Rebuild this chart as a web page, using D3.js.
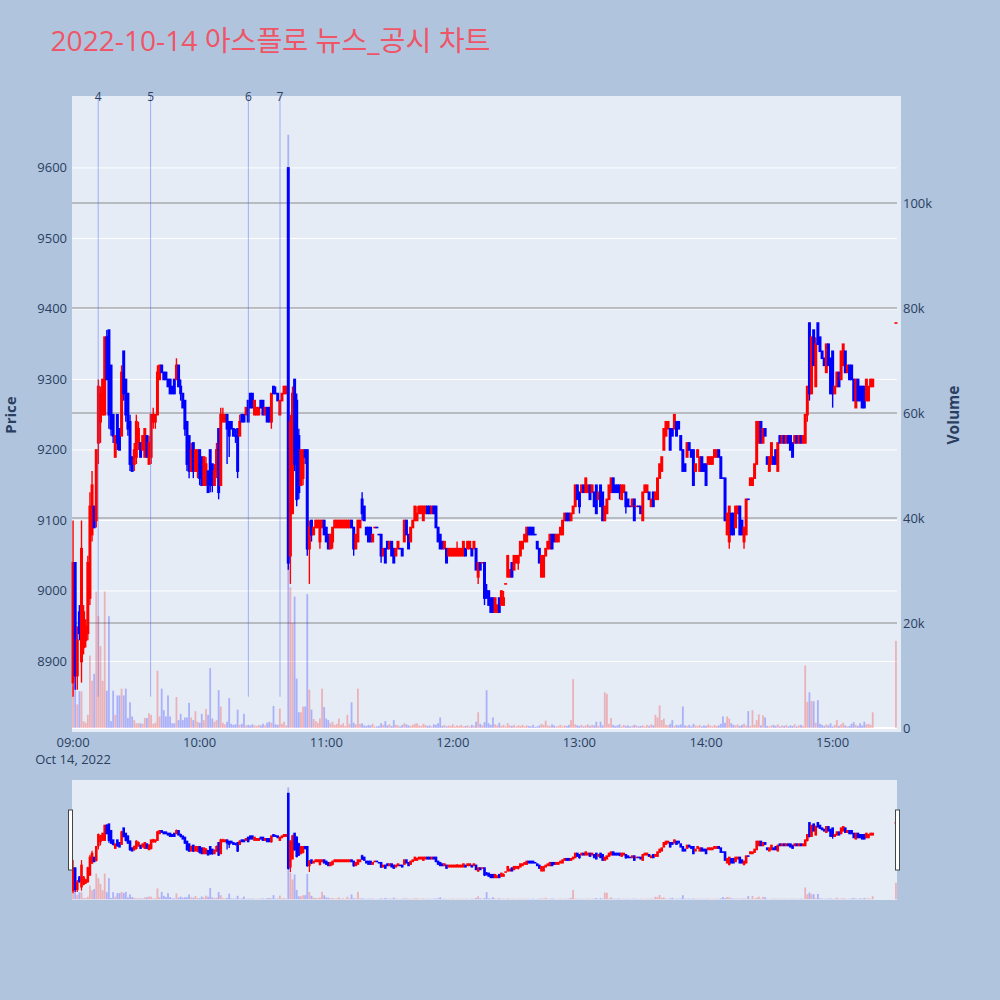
<!DOCTYPE html>
<html><head><meta charset="utf-8">
<script src="https://cdn.jsdelivr.net/npm/d3@7/dist/d3.min.js"></script>
<style>
html,body{margin:0;padding:0;background:#b0c4de;}
svg{display:block;}
text{font-family:"Open Sans","Noto Sans CJK KR",sans-serif;}
</style></head><body>
<svg id="chart" width="1000" height="1000"></svg>
<script>
const chartTitle = "2022-10-14 아스플로 뉴스_공시 차트";
const sessionStart = "2022-10-14T09:00:00Z";
const regularBars = 380;              // one-minute bars 09:00 .. 15:19
const closingAuction = "2022-10-14T15:30:00Z";

const openP = [
8870,9040,8880,8970,8900,8920,8930,8940,8990,9080,
9120,9100,9210,9240,9250,9250,9360,9370,9320,9250,
9190,9250,9230,9220,9340,9300,9280,9240,9190,9180,
9190,9210,9210,9200,9190,9220,9180,9190,9240,9240,
9250,9300,9320,9310,9310,9300,9300,9290,9300,9300,
9320,9290,9280,9270,9240,9220,9170,9210,9170,9170,
9200,9190,9150,9150,9170,9200,9180,9150,9170,9230,
9150,9240,9240,9250,9240,9240,9230,9220,9230,9220,
9250,9250,9250,9270,9280,9280,9250,9250,9250,9270,
9270,9250,9260,9260,9240,9290,9280,9280,9250,9270,
9280,9280,9600,9050,9110,9300,9270,9220,9150,9160,
9200,9200,9060,9100,9080,9090,9090,9070,9090,9100,
9090,9080,9060,9070,9090,9090,9090,9090,9090,9090,
9090,9090,9100,9090,9060,9070,9090,9130,9120,9090,
9090,9090,9070,9090,9090,9080,9080,9050,9060,9070,
9060,9070,9060,9050,9060,9060,9060,9070,9100,9080,
9070,9090,9100,9100,9110,9110,9100,9110,9120,9120,
9110,9120,9120,9090,9080,9070,9060,9060,9050,9050,
9050,9050,9050,9050,9050,9050,9060,9060,9060,9060,
9060,9060,9020,9040,9040,9040,9000,9000,8990,8990,
8970,8970,8990,8980,8980,9010,9020,9020,9040,9030,
9040,9040,9050,9060,9070,9070,9090,9090,9090,9080,
9070,9060,9020,9020,9050,9060,9060,9080,9080,9070,
9070,9080,9080,9100,9110,9110,9100,9110,9120,9150,
9140,9140,9150,9140,9140,9150,9140,9140,9150,9130,
9150,9140,9100,9110,9130,9140,9160,9150,9150,9150,
9130,9140,9140,9130,9120,9120,9130,9120,9120,9120,
9100,9140,9140,9140,9120,9140,9130,9130,9160,9170,
9200,9220,9230,9230,9230,9230,9240,9240,9220,9200,
9180,9190,9210,9200,9200,9170,9190,9170,9190,9180,
9180,9180,9180,9180,9190,9190,9200,9190,9160,9160,
9080,9070,9110,9110,9090,9110,9120,9100,9070,9080,
9130,9150,9150,9160,9180,9210,9240,9210,9230,9190,
9170,9180,9190,9200,9170,9220,9210,9220,9210,9220,
9220,9210,9210,9220,9210,9220,9210,9210,9250,9380,
9280,9370,9290,9380,9360,9340,9330,9310,9350,9330,
9340,9280,9290,9310,9300,9320,9340,9310,9320,9320,
9300,9260,9300,9290,9290,9290,9270,9270,9290,9290,
9380];
const highP = [
9100,9040,8950,8980,9100,8980,8960,9050,9140,9170,
9120,9200,9300,9290,9300,9360,9370,9370,9320,9250,
9220,9250,9230,9320,9340,9300,9280,9250,9190,9210,
9250,9240,9210,9220,9230,9220,9220,9250,9260,9250,
9320,9320,9320,9310,9310,9300,9300,9290,9300,9330,
9320,9300,9280,9270,9240,9220,9210,9210,9200,9200,
9200,9190,9190,9190,9170,9200,9180,9180,9210,9230,
9260,9260,9250,9250,9240,9240,9230,9230,9230,9250,
9250,9250,9260,9270,9280,9280,9270,9260,9260,9270,
9270,9260,9260,9260,9280,9290,9290,9280,9270,9280,
9290,9290,9600,9250,9290,9300,9280,9230,9200,9200,
9200,9200,9100,9100,9090,9100,9100,9100,9100,9100,
9090,9080,9080,9090,9100,9100,9100,9100,9100,9100,
9100,9100,9100,9090,9080,9100,9100,9140,9120,9090,
9090,9090,9080,9090,9090,9080,9080,9060,9060,9070,
9070,9070,9060,9060,9070,9060,9060,9100,9100,9080,
9090,9100,9120,9120,9120,9120,9120,9120,9120,9120,
9120,9120,9120,9090,9080,9070,9070,9060,9060,9060,
9060,9060,9070,9060,9060,9070,9060,9070,9070,9060,
9070,9060,9040,9040,9040,9040,9010,9000,8990,8990,
8990,8980,8990,9000,9000,9010,9050,9030,9040,9050,
9050,9050,9070,9070,9080,9090,9090,9090,9090,9080,
9070,9060,9050,9050,9060,9070,9080,9080,9080,9080,
9080,9090,9100,9110,9110,9110,9110,9120,9150,9150,
9140,9150,9150,9160,9150,9150,9150,9140,9150,9140,
9150,9140,9120,9130,9150,9160,9160,9150,9150,9150,
9150,9150,9140,9130,9120,9130,9130,9120,9120,9120,
9140,9150,9150,9140,9130,9140,9140,9160,9180,9190,
9230,9240,9240,9230,9230,9250,9240,9240,9220,9200,
9180,9210,9210,9200,9200,9180,9200,9190,9190,9180,
9180,9190,9190,9190,9200,9200,9200,9190,9160,9160,
9110,9120,9110,9110,9120,9120,9120,9100,9090,9130,
9130,9160,9160,9180,9240,9240,9240,9230,9230,9190,
9190,9210,9190,9200,9210,9220,9220,9220,9220,9220,
9220,9210,9220,9220,9220,9220,9220,9250,9290,9380,
9360,9370,9360,9380,9360,9340,9330,9350,9350,9330,
9340,9290,9310,9310,9340,9350,9340,9320,9320,9320,
9300,9300,9300,9290,9290,9290,9300,9290,9300,9300,
9380];
const lowP = [
8850,8860,8860,8930,8870,8910,8920,8930,8980,9070,
9090,9090,9180,9210,9250,9250,9300,9230,9220,9210,
9190,9200,9200,9220,9270,9240,9220,9170,9170,9170,
9180,9200,9190,9200,9190,9190,9180,9180,9230,9230,
9250,9300,9310,9300,9300,9290,9280,9280,9280,9300,
9290,9270,9260,9220,9170,9160,9170,9160,9170,9160,
9150,9150,9150,9150,9140,9140,9140,9150,9160,9130,
9150,9240,9240,9180,9190,9230,9220,9210,9160,9220,
9240,9240,9250,9240,9260,9260,9250,9250,9250,9260,
9250,9250,9240,9240,9230,9280,9280,9270,9250,9270,
9280,9280,9030,9010,9110,9170,9120,9130,9150,9150,
9180,9050,9010,9070,9080,9090,9090,9060,9090,9080,
9070,9060,9060,9060,9090,9090,9090,9090,9090,9090,
9090,9090,9090,9050,9060,9070,9090,9100,9100,9080,
9070,9070,9070,9090,9090,9080,9040,9050,9040,9060,
9060,9050,9040,9050,9060,9060,9050,9070,9080,9060,
9070,9090,9100,9100,9110,9110,9100,9110,9110,9110,
9110,9110,9090,9070,9060,9060,9060,9040,9050,9050,
9050,9050,9050,9050,9050,9050,9050,9060,9060,9050,
9060,9030,9010,9030,9040,8980,8990,8980,8970,8970,
8970,8970,8970,8980,8980,9010,9020,9020,9020,9030,
9040,9030,9050,9060,9070,9070,9080,9080,9080,9080,
9060,9040,9020,9020,9050,9060,9060,9060,9070,9070,
9070,9080,9080,9100,9100,9100,9100,9110,9120,9130,
9110,9140,9140,9140,9140,9130,9140,9120,9110,9130,
9120,9100,9100,9110,9130,9140,9140,9140,9140,9130,
9130,9140,9110,9120,9120,9120,9100,9120,9120,9110,
9100,9140,9140,9130,9120,9120,9130,9130,9160,9170,
9200,9220,9230,9200,9220,9230,9220,9230,9200,9170,
9170,9190,9200,9190,9150,9170,9190,9170,9170,9170,
9150,9180,9180,9180,9190,9190,9190,9160,9160,9100,
9080,9060,9080,9080,9090,9110,9080,9080,9060,9080,
9130,9150,9150,9160,9180,9210,9210,9210,9220,9180,
9170,9180,9180,9180,9170,9210,9210,9210,9210,9210,
9200,9190,9210,9210,9210,9210,9210,9210,9240,9270,
9280,9320,9290,9350,9340,9330,9320,9310,9320,9280,
9260,9280,9290,9290,9300,9320,9310,9310,9300,9300,
9270,9260,9270,9270,9260,9260,9270,9270,9290,9290,
9380];
const closeP = [
9040,8880,8930,8940,9060,8970,8950,9040,9120,9150,
9090,9200,9290,9280,9300,9360,9300,9250,9230,9220,
9220,9210,9200,9310,9280,9250,9230,9180,9170,9200,
9240,9230,9190,9220,9230,9190,9210,9250,9250,9250,
9310,9320,9310,9300,9300,9290,9280,9280,9280,9320,
9290,9280,9260,9230,9180,9170,9200,9170,9200,9200,
9160,9150,9190,9180,9140,9150,9150,9170,9200,9140,
9250,9250,9250,9230,9220,9230,9220,9220,9170,9240,
9240,9240,9260,9240,9260,9260,9270,9260,9260,9260,
9250,9260,9240,9240,9280,9280,9280,9270,9270,9280,
9290,9290,9040,9240,9280,9180,9130,9140,9200,9200,
9190,9060,9090,9080,9090,9100,9100,9100,9100,9080,
9070,9060,9080,9090,9100,9100,9100,9100,9100,9100,
9100,9100,9090,9060,9080,9100,9100,9110,9100,9080,
9070,9070,9080,9090,9090,9080,9050,9060,9040,9060,
9070,9050,9040,9060,9070,9060,9050,9100,9080,9060,
9090,9100,9120,9110,9120,9120,9120,9120,9110,9110,
9120,9110,9090,9070,9060,9060,9070,9040,9060,9060,
9060,9060,9060,9060,9060,9070,9050,9070,9070,9050,
9070,9030,9040,9030,9040,8990,8990,8980,8970,8970,
8990,8980,8970,9000,8990,9010,9050,9030,9020,9050,
9050,9050,9070,9070,9080,9090,9080,9080,9080,9080,
9060,9040,9050,9050,9060,9070,9080,9060,9070,9080,
9080,9090,9100,9110,9100,9100,9110,9120,9150,9130,
9120,9150,9140,9160,9150,9130,9150,9120,9110,9140,
9120,9100,9120,9130,9150,9160,9140,9140,9140,9140,
9150,9150,9120,9120,9120,9130,9100,9120,9120,9110,
9140,9150,9150,9130,9130,9120,9140,9160,9180,9190,
9230,9240,9240,9200,9220,9250,9220,9230,9200,9170,
9170,9210,9200,9190,9150,9180,9200,9190,9170,9170,
9150,9190,9190,9190,9200,9200,9190,9160,9160,9100,
9110,9120,9080,9080,9120,9120,9080,9080,9090,9130,
9130,9160,9160,9180,9240,9240,9210,9230,9220,9180,
9190,9210,9180,9180,9210,9210,9220,9210,9220,9210,
9200,9190,9220,9210,9220,9210,9220,9250,9290,9280,
9360,9320,9350,9350,9340,9330,9320,9350,9320,9280,
9280,9290,9310,9290,9340,9350,9310,9320,9300,9300,
9270,9300,9270,9270,9260,9260,9300,9290,9300,9300,
9380];
const volume = [
8000,8400,4500,7000,7000,1300,1000,2500,13800,9000,
10300,26000,21300,15600,9000,26000,7100,21300,1300,7100,
2500,6200,6200,7500,6200,7500,1900,4900,2200,1500,
900,900,900,800,1900,1900,2800,2500,800,1000,
10900,2200,7500,3400,2200,6200,2200,900,900,5900,
1500,2700,1500,2000,2000,4800,2000,1500,3200,1200,
1000,2700,1500,3600,2500,11400,1800,1200,1500,7200,
4100,1000,700,1200,5700,800,600,700,3500,600,
800,2700,500,600,500,700,500,400,600,500,
800,500,1000,1200,1000,4200,700,600,3700,800,
1200,500,113000,26800,20000,25000,9400,3000,3000,4100,
4100,25500,7300,3500,1700,1300,1000,1800,7500,4000,
1800,1500,900,1200,600,800,1800,600,900,400,
2500,800,4900,1000,700,7500,800,900,500,400,
600,500,800,300,300,400,900,600,1300,500,
700,400,1500,600,500,300,600,900,700,500,
400,600,800,900,500,400,800,600,400,500,
300,700,600,900,2000,400,600,300,500,400,
700,300,500,400,600,300,400,500,300,600,
400,1200,3000,800,500,1100,7200,900,600,2000,
700,500,1000,400,600,300,900,500,400,600,
300,500,400,600,300,500,400,300,600,200,
300,500,800,600,1400,500,400,700,500,300,
400,600,300,500,400,600,1500,9300,700,500,
400,600,300,500,700,400,600,500,1200,400,
1200,500,6800,6500,800,1900,600,400,500,700,
300,600,400,500,300,400,600,500,300,400,
500,300,600,400,700,500,2500,2000,4300,1500,
1800,600,500,800,1500,400,600,500,700,4100,
500,400,600,300,800,500,400,600,300,500,
400,700,500,300,600,400,500,800,2200,1000,
2200,1800,900,600,500,700,400,600,800,500,
3200,400,3400,600,1500,2600,500,2400,2000,400,
300,500,600,400,700,300,500,400,600,300,
500,400,700,300,500,600,400,11900,5000,6800,
5100,5100,1000,5300,800,600,400,700,500,900,
300,600,1500,400,700,1000,500,300,400,800,
1100,600,400,900,500,1200,700,800,600,3000,
16600];

const priceTicks = [8900,9000,9100,9200,9300,9400,9500,9600];
const volumeTicks = [20000,40000,60000,80000,100000];
const volumeTickLabels = ["0","20k","40k","60k","80k","100k"];
const timeTicks = ["09:00","10:00","11:00","12:00","13:00","14:00","15:00"];
const dateLabel = "Oct 14, 2022";
const newsLabels = ["4","5","6","7"];
const newsTimes = ["2022-10-14T09:11:55Z","2022-10-14T09:36:45Z","2022-10-14T10:23:05Z","2022-10-14T10:38:05Z"];
const newsLinePriceBottom = 8850;

// ---------- build records ----------
const t0 = new Date(sessionStart);
const times = d3.range(regularBars).map(i => d3.utcMinute.offset(t0, i));
times.push(new Date(closingAuction));
const bars = times.map((t, i) => ({t, o: openP[i], h: highP[i], l: lowP[i], c: closeP[i], v: volume[i]}));
bars.forEach((d, i) => {
  d.up = d.c > d.o || (d.c === d.o && i > 0 && d.c > bars[i - 1].c);
});

const UP = "#ff0000", DOWN = "#0000ff";
const UPV = "rgba(255,0,0,0.25)", DOWNV = "rgba(0,0,255,0.25)";
const TXT = "#2a3f5f";

const svg = d3.select("#chart");
const P = {l: 72, r: 897, t: 96, b: 732};
const S = {t: 780, b: 900};

const x = d3.scaleUtc()
  .domain([new Date(+t0 - 30000), new Date(+new Date(closingAuction) + 30000)])
  .range([P.l, P.r]);
const y = d3.scaleLinear().domain([8800, 9702]).range([P.b, P.t]);
const yv = d3.scaleLinear().domain([0, 100000]).range([728, 203]);
const ys = d3.scaleLinear().domain(y.domain()).range([S.b, S.t]);
const yvs = d3.scaleLinear().domain([yv.invert(P.b), yv.invert(P.t)]).range([S.b, S.t]);

// title
svg.append("text").attr("x", 50.5).attr("y", 51).attr("font-size", 28)
  .attr("fill", "#ef5566").attr("textLength", 440).attr("lengthAdjust", "spacingAndGlyphs")
  .text(chartTitle);

// plot background
svg.append("rect").attr("x", P.l).attr("y", P.t).attr("width", 901 - P.l).attr("height", P.b - P.t).attr("fill", "#e5ecf6");

// price grid
svg.append("g").selectAll("line").data(priceTicks).join("line")
  .attr("x1", P.l).attr("x2", P.r).attr("y1", d => y(d)).attr("y2", d => y(d))
  .attr("stroke", "#ffffff").attr("stroke-width", 1);
// volume grid
svg.append("g").selectAll("line").data(volumeTicks).join("line")
  .attr("x1", P.l).attr("x2", P.r).attr("y1", d => yv(d)).attr("y2", d => yv(d))
  .attr("stroke", "#8a8a8a").attr("stroke-width", 1);
svg.append("line").attr("x1", P.l).attr("x2", P.r).attr("y1", yv(0)).attr("y2", yv(0))
  .attr("stroke", "#ffffff").attr("stroke-width", 2);

function drawVolume(g, ysc, w) {
  g.selectAll("rect.v").data(bars).join("rect").attr("class", "v")
    .attr("x", d => x(d.t) - w / 2).attr("width", w)
    .attr("y", d => ysc(d.v)).attr("height", d => Math.max(0, ysc(0) - ysc(d.v)))
    .attr("fill", d => d.up ? UPV : DOWNV);
}
function drawCandles(g, ysc, bw, ww) {
  g.selectAll("line.w").data(bars).join("line").attr("class", "w")
    .attr("x1", d => x(d.t)).attr("x2", d => x(d.t))
    .attr("y1", d => ysc(Math.max(d.h, d.o, d.c))).attr("y2", d => ysc(Math.min(d.l, d.o, d.c)))
    .attr("stroke", d => d.up ? UP : DOWN).attr("stroke-width", ww);
  g.selectAll("rect.b").data(bars).join("rect").attr("class", "b")
    .attr("x", d => x(d.t) - bw / 2).attr("width", bw)
    .attr("y", d => Math.min(ysc(d.o), ysc(d.c)) - 0.8)
    .attr("height", d => Math.abs(ysc(d.o) - ysc(d.c)) + 1.6)
    .attr("fill", d => d.up ? UP : DOWN);
}

const main = svg.append("g");
drawVolume(main.append("g"), yv, 1.8);
drawCandles(main.append("g"), y, 3, 1.4);

// news lines
const news = newsTimes.map((t, i) => ({t: new Date(t), label: newsLabels[i]}));
svg.append("g").selectAll("line").data(news).join("line")
  .attr("x1", d => x(d.t)).attr("x2", d => x(d.t))
  .attr("y1", P.t).attr("y2", y(newsLinePriceBottom))
  .attr("stroke", "rgba(70,100,240,0.45)").attr("stroke-width", 1);
svg.append("g").selectAll("text").data(news).join("text")
  .attr("x", d => x(d.t)).attr("y", 101).attr("text-anchor", "middle")
  .attr("font-size", 12).attr("fill", TXT).text(d => d.label);

// axes labels
svg.append("g").selectAll("text").data(priceTicks).join("text")
  .attr("x", 67).attr("y", d => y(d) + 4.5).attr("text-anchor", "end")
  .attr("font-size", 13).attr("fill", TXT).text(d => d);
svg.append("g").selectAll("text").data([0].concat(volumeTicks)).join("text")
  .attr("x", 903).attr("y", d => yv(d) + 4.5).attr("text-anchor", "start")
  .attr("font-size", 13).attr("fill", TXT).text((d, i) => volumeTickLabels[i]);
svg.append("g").selectAll("text").data(timeTicks).join("text")
  .attr("x", d => x(new Date("2022-10-14T" + d + ":00Z"))).attr("y", 747).attr("text-anchor", "middle")
  .attr("font-size", 13).attr("fill", TXT).text(d => d);
svg.append("text").attr("x", x(t0)).attr("y", 763.5).attr("text-anchor", "middle")
  .attr("font-size", 13).attr("fill", TXT).text(dateLabel);

svg.append("text").attr("transform", "translate(15.5,415) rotate(-90)").attr("text-anchor", "middle")
  .attr("font-size", 15).attr("font-weight", "bold").attr("fill", TXT).text("Price");
svg.append("text").attr("transform", "translate(959,415) rotate(-90)").attr("text-anchor", "middle")
  .attr("font-size", 15.5).attr("font-weight", "bold").attr("fill", TXT).text("Volume");

// range slider
svg.append("defs").append("clipPath").attr("id", "sclip").append("rect")
  .attr("x", P.l).attr("y", S.t).attr("width", P.r - P.l).attr("height", S.b - S.t);
svg.append("rect").attr("x", P.l).attr("y", S.t).attr("width", P.r - P.l).attr("height", S.b - S.t).attr("fill", "#e5ecf6");
const sg = svg.append("g").attr("clip-path", "url(#sclip)");
drawVolume(sg.append("g"), yvs, 1.8);
drawCandles(sg.append("g"), ys, 2.6, 1.2);
[P.l - 3.5, P.r - 1.5].forEach(hx => {
  svg.append("rect").attr("x", hx).attr("y", 810).attr("width", 4).attr("height", 60)
    .attr("fill", "#ffffff").attr("stroke", "#444").attr("stroke-width", 1);
});
</script>
</body></html>
